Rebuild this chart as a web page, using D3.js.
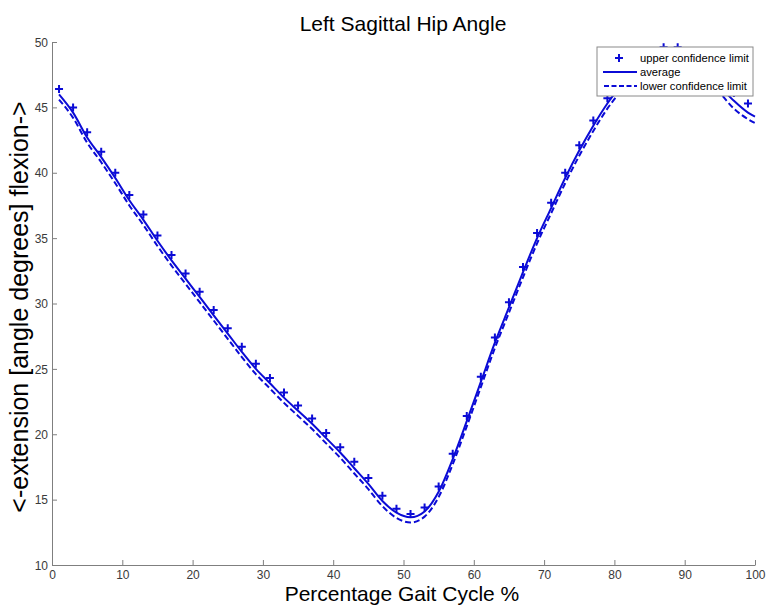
<!DOCTYPE html>
<html>
<head>
<meta charset="utf-8">
<script src="https://cdn.jsdelivr.net/npm/d3@7"></script>
<style>
  html, body { margin: 0; padding: 0; background: #fff; }
  svg { display: block; }
  text { font-family: "Liberation Sans", Arial, sans-serif; }
</style>
</head>
<body>
<svg id="chart" width="766" height="608"></svg>
<script>
// ---- data ----
const titleText = "Left Sagittal Hip Angle";
const xLabelText = "Percentage Gait Cycle %";
const yLabelText = "<-extension [angle degrees] flexion->";
const xTicks = [0, 10, 20, 30, 40, 50, 60, 70, 80, 90, 100];
const yTicks = [10, 15, 20, 25, 30, 35, 40, 45, 50];
const seriesNames = ["upper confidence limit", "average", "lower confidence limit"];

const markerX = [1, 3, 5, 7, 9, 11, 13, 15, 17, 19, 21, 23, 25, 27, 29, 31, 33, 35, 37, 39,
  41, 43, 45, 47, 49, 51, 53, 55, 57, 59, 61, 63, 65, 67, 69, 71, 73, 75, 77, 79,
  81, 83, 85, 87, 89, 91, 93, 95, 97, 99];
const upperValues = [46.4, 45.0, 43.1, 41.6, 40.0, 38.3, 36.8, 35.2, 33.7, 32.3,
  30.9, 29.5, 28.1, 26.7, 25.4, 24.3, 23.2, 22.2, 21.2, 20.1,
  19.0, 17.9, 16.65, 15.3, 14.3, 13.9, 14.4, 16.0, 18.5, 21.4,
  24.4, 27.4, 30.1, 32.8, 35.4, 37.7, 40.0, 42.1, 44.0, 45.7,
  47.1, 48.3, 49.1, 49.6, 49.6, 49.0, 48.1, 47.1, 46.1, 45.3];

const lineX = [1, 3, 5, 7, 9, 11, 13, 15, 17, 19, 21, 23, 25, 27, 29, 31, 33, 35, 37, 39,
  41, 43, 45, 47, 49, 51, 53, 55, 57, 59, 61, 63, 65, 67, 69, 71, 73, 75, 77, 79,
  81, 83, 85, 87, 89, 91, 93, 95, 97, 99, 100];
const averageValues = [46.0, 44.6, 42.7, 41.2, 39.6, 37.9, 36.4, 34.8, 33.3, 31.9,
  30.5, 29.1, 27.7, 26.3, 25.0, 23.9, 22.8, 21.8, 20.8, 19.7,
  18.6, 17.4, 16.2, 14.9, 14.0, 13.65, 14.1, 15.6, 18.1, 21.0,
  24.0, 27.0, 29.7, 32.4, 35.0, 37.3, 39.6, 41.7, 43.6, 45.3,
  46.7, 47.9, 48.7, 49.2, 49.2, 48.6, 47.7, 46.6, 45.5, 44.6, 44.3];
const lowerValues = [45.6, 44.2, 42.3, 40.8, 39.2, 37.5, 36.0, 34.4, 32.9, 31.5,
  30.1, 28.7, 27.3, 25.9, 24.6, 23.5, 22.4, 21.4, 20.4, 19.3,
  18.2, 17.0, 15.8, 14.5, 13.6, 13.25, 13.7, 15.2, 17.7, 20.6,
  23.6, 26.6, 29.3, 32.0, 34.6, 36.9, 39.2, 41.3, 43.2, 44.9,
  46.3, 47.5, 48.3, 48.8, 48.8, 48.2, 47.2, 46.1, 44.9, 44.1, 43.8];

// ---- layout ----
const svg = d3.select("#chart");
const margin = { left: 52, right: 11, top: 42, bottom: 43 };
const W = 766, H = 608;
const blue = "#0b0bd6";
const axisColor = "#7f7f7f";
const tickTextColor = "#3a3a3a";

const x = d3.scaleLinear().domain([0, 100]).range([margin.left, W - margin.right]);
const y = d3.scaleLinear().domain([10, 50]).range([H - margin.bottom, margin.top]);

// title
svg.append("text")
  .attr("x", 403).attr("y", 31)
  .attr("text-anchor", "middle")
  .attr("font-size", 21)
  .attr("fill", "#000")
  .text(titleText);

// axes (MATLAB style: inward ticks)
const xAxis = svg.append("g")
  .attr("transform", `translate(0,${y(10)})`)
  .call(d3.axisBottom(x).tickValues(xTicks).tickSizeInner(-5).tickSizeOuter(0).tickPadding(5));
const yAxis = svg.append("g")
  .attr("transform", `translate(${x(0)},0)`)
  .call(d3.axisLeft(y).tickValues(yTicks).tickSizeInner(-5).tickSizeOuter(0).tickPadding(4));

[xAxis, yAxis].forEach(g => {
  g.select(".domain").attr("stroke", axisColor).attr("stroke-width", 1);
  g.selectAll(".tick line").attr("stroke", axisColor);
  g.selectAll(".tick text")
    .attr("fill", tickTextColor)
    .attr("font-size", 12)
    .attr("font-family", "'Liberation Sans', Arial, sans-serif");
});
xAxis.selectAll(".tick text").attr("dy", "0.71em");
yAxis.selectAll(".tick text").attr("dy", "0.35em");

// axis labels
svg.append("text")
  .attr("x", 402).attr("y", 601)
  .attr("text-anchor", "middle")
  .attr("font-size", 21)
  .attr("fill", "#000")
  .text(xLabelText);

svg.append("text")
  .attr("transform", `translate(28,307) rotate(-90)`)
  .attr("text-anchor", "middle")
  .attr("font-size", 25)
  .attr("fill", "#000")
  .text(yLabelText);

// lines
const lineGen = vals => d3.line()
  .x((d, i) => x(lineX[i]))
  .y(d => y(d))
  .curve(d3.curveMonotoneX)(vals);

svg.append("path")
  .attr("d", lineGen(averageValues))
  .attr("fill", "none")
  .attr("stroke", blue)
  .attr("stroke-width", 2);

svg.append("path")
  .attr("d", lineGen(lowerValues))
  .attr("fill", "none")
  .attr("stroke", blue)
  .attr("stroke-width", 2)
  .attr("stroke-dasharray", "6,3");

// upper markers (+)
const msize = 4;
const markers = svg.append("g");
markerX.forEach((mx, i) => {
  const cx = x(mx), cy = y(upperValues[i]);
  markers.append("path")
    .attr("d", `M${cx - msize},${cy}H${cx + msize}M${cx},${cy - msize}V${cy + msize}`)
    .attr("stroke", blue)
    .attr("stroke-width", 2)
    .attr("fill", "none");
});

// legend
const lg = svg.append("g");
const lx = 597, ly = 47, lw = 156, lh = 49;
lg.append("rect")
  .attr("x", lx).attr("y", ly).attr("width", lw).attr("height", lh)
  .attr("fill", "#fff").attr("stroke", "#8a8a8a").attr("stroke-width", 1);
const rowY = [ly + 11, ly + 25, ly + 39];
lg.append("path")
  .attr("d", `M${619 - msize},${rowY[0]}H${619 + msize}M619,${rowY[0] - msize}V${rowY[0] + msize}`)
  .attr("stroke", blue).attr("stroke-width", 2);
lg.append("line")
  .attr("x1", 603).attr("x2", 637).attr("y1", rowY[1]).attr("y2", rowY[1])
  .attr("stroke", blue).attr("stroke-width", 2);
lg.append("line")
  .attr("x1", 604).attr("x2", 637).attr("y1", rowY[2]).attr("y2", rowY[2])
  .attr("stroke", blue).attr("stroke-width", 2).attr("stroke-dasharray", "5,2.5");
seriesNames.forEach((name, i) => {
  lg.append("text")
    .attr("x", 640).attr("y", rowY[i])
    .attr("dy", "0.35em")
    .attr("font-size", 11.2)
    .attr("fill", "#000")
    .text(name);
});
</script>
</body>
</html>
